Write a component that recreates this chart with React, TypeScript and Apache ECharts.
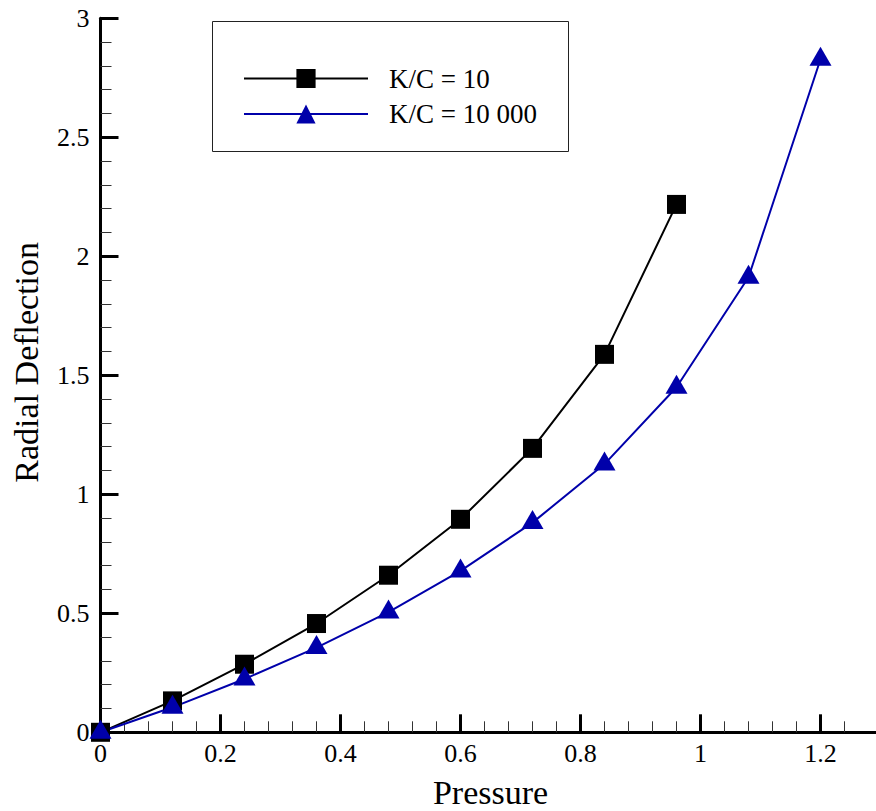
import React, { useEffect, useRef } from "react";
import * as echarts from "echarts";

const pressure = [0, 0.12, 0.24, 0.36, 0.48, 0.6, 0.72, 0.84, 0.96, 1.08, 1.2];
const seriesNames = ["K/C = 10", "K/C = 10 000"];
const deflectionKC10 = [0, 0.132, 0.286, 0.457, 0.66, 0.895, 1.193, 1.588, 2.218];
const deflectionKC10000 = [0, 0.105, 0.224, 0.356, 0.505, 0.678, 0.881, 1.127, 1.45, 1.912, 2.828];

const FONT = "'Liberation Serif', 'Times New Roman', Times, serif";

export default function App() {
  const ref = useRef<HTMLDivElement>(null);

  useEffect(() => {
    document.body.style.margin = "0";
    if (!ref.current) return;
    const chart = echarts.init(ref.current, undefined, { renderer: "svg" });

    const pairs = (vals: number[]) => vals.map((v, i) => [pressure[i], v]);

    const gridPos = { left: 100.5, top: 18.3, bottom: 78.7 };

    const option: any = {
      animation: false,
      backgroundColor: "#fff",
      textStyle: { fontFamily: FONT },
      grid: [
        { ...gridPos, right: -4.5, outerBoundsMode: "none", containLabel: false },
        { ...gridPos, width: 750, outerBoundsMode: "none", containLabel: false },
      ],
      legend: {
        orient: "vertical",
        left: 243,
        top: 65,
        padding: 0,
        itemGap: 8.5,
        itemWidth: 124,
        itemHeight: 24,
        textStyle: { fontSize: 27, fontFamily: FONT, color: "#000", padding: [0, 0, 0, 16] },
        data: seriesNames,
      },
      graphic: [
        {
          type: "rect",
          z: -1,
          shape: { x: 212.5, y: 21.5, width: 356, height: 130 },
          style: { fill: "transparent", stroke: "#222", lineWidth: 1 },
        },
      ],
      xAxis: [
        {
          type: "value",
          gridIndex: 0,
          min: 0,
          max: 1.3,
          interval: 0.2,
          name: "Pressure",
          nameLocation: "middle",
          nameGap: 43,
          nameTextStyle: { fontSize: 34, fontFamily: FONT, color: "#000" },
          axisLine: { show: true, lineStyle: { color: "#000", width: 3 } },
          axisTick: { show: true, inside: true, length: 18, lineStyle: { color: "#000", width: 3 } },
          minorTick: { show: false },
          splitLine: { show: false },
          axisLabel: { fontSize: 26, fontFamily: FONT, color: "#000", margin: 8, showMaxLabel: false },
        },
        {
          type: "value",
          gridIndex: 1,
          min: 0,
          max: 1.25,
          interval: 0.2,
          axisLine: { show: false },
          axisTick: { show: false, inside: true },
          axisLabel: { show: false },
          splitLine: { show: false },
          minorTick: { show: true, splitNumber: 5, length: 11, lineStyle: { color: "#333", width: 1 } },
        },
      ],
      yAxis: [
        {
          type: "value",
          gridIndex: 0,
          min: 0,
          max: 3,
          interval: 0.5,
          name: "Radial Deflection",
          nameLocation: "middle",
          nameGap: 57,
          nameTextStyle: { fontSize: 34, fontFamily: FONT, color: "#000", padding: [0, 0, 0, 26] },
          axisLine: { show: true, lineStyle: { color: "#000", width: 3 } },
          axisTick: { show: true, inside: true, length: 18, lineStyle: { color: "#000", width: 3 } },
          minorTick: { show: true, splitNumber: 5, length: 11, lineStyle: { color: "#333", width: 1 } },
          splitLine: { show: false },
          axisLabel: { fontSize: 26, fontFamily: FONT, color: "#000", margin: 11 },
        },
        {
          type: "value",
          gridIndex: 1,
          min: 0,
          max: 3,
          show: false,
        },
      ],
      series: [
        {
          name: seriesNames[0],
          type: "line",
          xAxisIndex: 0,
          yAxisIndex: 0,
          data: pairs(deflectionKC10),
          color: "#000000",
          lineStyle: { color: "#000000", width: 2 },
          itemStyle: { color: "#000000" },
          symbol: "rect",
          symbolSize: 19,
          showAllSymbol: true,
          clip: false,
        },
        {
          name: seriesNames[1],
          type: "line",
          xAxisIndex: 0,
          yAxisIndex: 0,
          data: pairs(deflectionKC10000),
          color: "#0000AA",
          lineStyle: { color: "#0000AA", width: 2 },
          itemStyle: { color: "#0000AA" },
          symbol: "triangle",
          symbolSize: [22, 19],
          symbolOffset: [0, -3],
          showAllSymbol: true,
          clip: false,
        },
      ],
    };

    chart.setOption(option);
    return () => chart.dispose();
  }, []);

  return <div ref={ref} style={{ width: 876, height: 811 }} />;
}
